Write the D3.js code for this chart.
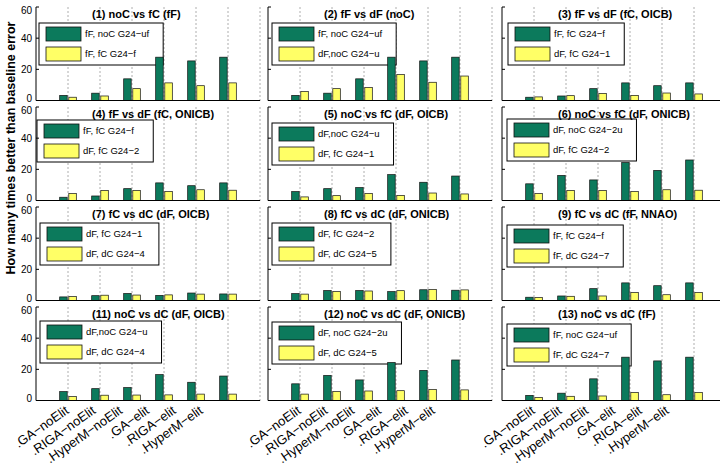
<!DOCTYPE html>
<html>
<head>
<meta charset="utf-8">
<script src="https://cdn.jsdelivr.net/npm/d3@7"></script>
<style>
  html, body { margin: 0; padding: 0; background: #fff; }
  svg { display: block; font-family: "Liberation Sans", Arial, Helvetica, sans-serif; }
</style>
</head>
<body>
<svg id="chart" width="720" height="468"></svg>
<script>
// Algorithm / selection-scheme categories shared by every panel
const categories = [".GA\u2212noElit", ".RIGA\u2212noElit", ".HyperM\u2212noElit", ".GA\u2212elit", ".RIGA\u2212elit", ".HyperM\u2212elit"];
const yTicks = [0, 20, 40, 60];

// Improvement factors over the baseline error, one array per configuration
const fF_noC_G24uf = [3.3, 4.7, 13.9, 27.8, 25.4, 27.8];
const fF_fC_G24f   = [2.1, 2.9, 7.6, 11.3, 9.5, 11.3];
const dF_noC_G24u  = [5.7, 7.6, 8.3, 16.6, 11.7, 15.7];
const dF_noC_G242u = [10.7, 16.1, 13.2, 24.4, 19.3, 26.0];
const dF_fC_G241   = [2.3, 3.1, 4.5, 3.3, 4.8, 4.2];
const dF_fC_G242   = [4.4, 6.4, 6.4, 5.7, 6.9, 6.6];
const dF_dC_G244   = [2.5, 3.4, 3.5, 3.6, 4.1, 4.1];
const dF_dC_G245   = [4.1, 5.7, 6.1, 6.3, 7.0, 6.8];
const fF_dC_G247   = [1.9, 2.7, 2.9, 5.1, 3.7, 5.1];

// Panel titles and the two compared configurations in each
const panelTitles = [
  "(1) noC vs fC (fF)", "(2) fF vs dF (noC)", "(3) fF vs dF (fC, OICB)",
  "(4) fF vs dF (fC, ONICB)", "(5) noC vs fC (dF, OICB)", "(6) noC vs fC (dF, ONICB)",
  "(7) fC vs dC (dF, OICB)", "(8) fC vs dC (dF, ONICB)", "(9) fC vs dC (fF, NNAO)",
  "(11) noC vs dC (dF, OICB)", "(12) noC vs dC (dF, ONICB)", "(13) noC vs dC (fF)"
];
const firstLabels = [
  "fF, noC G24\u2212uf", "fF, noC G24\u2212uf", "fF, fC G24\u2212f",
  "fF, fC G24\u2212f", "dF,noC G24\u2212u", "dF, noC G24\u22122u",
  "dF, fC G24\u22121", "dF, fC G24\u22122", "fF, fC G24\u2212f",
  "dF,noC G24\u2212u", "dF, noC G24\u22122u", "fF, noC G24\u2212uf"
];
const secondLabels = [
  "fF, fC G24\u2212f", "dF,noC G24\u2212u", "dF, fC G24\u22121",
  "dF, fC G24\u22122", "dF, fC G24\u22121", "dF, fC G24\u22122",
  "dF, dC G24\u22124", "dF, dC G24\u22125", "fF, dC G24\u22127",
  "dF, dC G24\u22124", "dF, dC G24\u22125", "fF, dC G24\u22127"
];
const firstSeries = [
  fF_noC_G24uf, fF_noC_G24uf, fF_fC_G24f,
  fF_fC_G24f, dF_noC_G24u, dF_noC_G242u,
  dF_fC_G241, dF_fC_G242, fF_fC_G24f,
  dF_noC_G24u, dF_noC_G242u, fF_noC_G24uf
];
const secondSeries = [
  fF_fC_G24f, dF_noC_G24u, dF_fC_G241,
  dF_fC_G242, dF_fC_G241, dF_fC_G242,
  dF_dC_G244, dF_dC_G245, fF_dC_G247,
  dF_dC_G244, dF_dC_G245, fF_dC_G247
];

// ---- layout ----
const colX = [36, 268, 502];
const rowTop = 7, rowPitch = 100, plotH = 93.5, plotW = 224;
const legendDx = [3, 4, 6, 1, 4, 5, 4, 4, 5, 4, 4, 5];
const legendDy = [16, 16, 16, 13, 16, 12, 16, 16, 18, 14, 15, 17];
const GREEN = "#0c7a5c", YELLOW = "#ffff66";

const svg = d3.select("#chart");
const x = d3.scaleLinear().domain([0, 7]).range([0, plotW]);
const y = d3.scaleLinear().domain([0, 60]).range([plotH, 0]);
// rotated tick labels are spread a little tighter than the bar groups
const xLabel = d3.scalePoint().domain(categories).range([28, 162]);

panelTitles.forEach((title, i) => {
  const col = i % 3, row = Math.floor(i / 3);
  const g = svg.append("g")
    .attr("transform", `translate(${colX[col]},${rowTop + row * rowPitch})`);

  g.append("rect").attr("x", 0).attr("y", 0)
    .attr("width", plotW).attr("height", plotH).attr("fill", "#fff");

  // dotted grid at each category and at the right edge
  g.selectAll("line.grid").data(d3.range(1, 8)).join("line")
    .attr("class", "grid")
    .attr("x1", d => x(d)).attr("x2", d => x(d))
    .attr("y1", y(0)).attr("y2", y(60))
    .attr("stroke", "#333").attr("stroke-width", 0.8)
    .attr("stroke-dasharray", "1,3");

  // legend (sits under the bars)
  const lg = g.append("g").attr("transform", `translate(${legendDx[i]},${legendDy[i]})`);
  const box = lg.append("rect").attr("x", 0).attr("y", 0).attr("height", 42)
    .attr("fill", "#fff").attr("stroke", "#000").attr("stroke-width", 1);
  const entries = [[GREEN, firstLabels[i]], [YELLOW, secondLabels[i]]];
  let maxW = 0;
  entries.forEach(([color, label], j) => {
    lg.append("rect").attr("x", 7).attr("y", 4 + j * 20).attr("width", 35).attr("height", 14)
      .attr("fill", color).attr("stroke", "#111").attr("stroke-width", 0.8);
    const t = lg.append("text").attr("x", 46).attr("y", 11 + j * 20).attr("dy", "0.35em")
      .attr("font-size", 9.5).attr("fill", "#000").text(label);
    maxW = Math.max(maxW, t.node().getComputedTextLength());
  });
  box.attr("width", 46 + maxW + 14);

  // grouped bars
  const pairs = categories.map((c, k) => ({ k: k + 1, a: firstSeries[i][k], b: secondSeries[i][k] }));
  g.selectAll("rect.a").data(pairs).join("rect")
    .attr("class", "a")
    .attr("x", d => x(d.k - 0.26)).attr("width", x(0.235))
    .attr("y", d => y(d.a)).attr("height", d => y(0) - y(d.a))
    .attr("fill", GREEN).attr("stroke", "#111").attr("stroke-width", 0.7);
  g.selectAll("rect.b").data(pairs).join("rect")
    .attr("class", "b")
    .attr("x", d => x(d.k + 0.025)).attr("width", x(0.235))
    .attr("y", d => y(d.b)).attr("height", d => y(0) - y(d.b))
    .attr("fill", YELLOW).attr("stroke", "#111").attr("stroke-width", 0.7);

  // axes
  g.append("line").attr("x1", 0).attr("x2", x(7)).attr("y1", y(0)).attr("y2", y(0))
    .attr("stroke", "#000").attr("stroke-width", 1);
  g.append("line").attr("x1", 0).attr("x2", 0).attr("y1", y(0)).attr("y2", y(60))
    .attr("stroke", "#000").attr("stroke-width", 1);
  g.selectAll("line.ytick").data(yTicks).join("line")
    .attr("class", "ytick")
    .attr("x1", 0).attr("x2", 3).attr("y1", d => y(d)).attr("y2", d => y(d))
    .attr("stroke", "#000").attr("stroke-width", 1);
  if (col === 0) {
    g.selectAll("text.ytl").data(yTicks).join("text")
      .attr("class", "ytl")
      .attr("x", -4)
      .attr("y", d => y(d) + (d === 0 ? -2.5 : d === 60 ? 3 : 0))
      .attr("dy", "0.35em")
      .attr("text-anchor", "end").attr("font-size", 10).attr("fill", "#000")
      .text(d => d);
  }

  // category labels under the bottom row
  if (row === 3) {
    g.selectAll("text.xtl").data(categories).join("text")
      .attr("class", "xtl")
      .attr("transform", d => `translate(${xLabel(d)},${y(0) + 4}) rotate(-35)`)
      .attr("text-anchor", "end").attr("dy", "0.75em")
      .attr("font-size", 13).attr("fill", "#000")
      .text(d => d);
  }

  // title
  g.append("text").attr("x", 56).attr("y", 11)
    .attr("font-size", 11).attr("font-weight", "bold").attr("fill", "#000")
    .text(title);
});

// shared y-axis label
svg.append("text")
  .attr("transform", "translate(15,148) rotate(-90)")
  .attr("text-anchor", "middle")
  .attr("font-size", 12.5).attr("font-weight", "bold").attr("fill", "#000")
  .text("How many times better than baseline error");
</script>
</body>
</html>
